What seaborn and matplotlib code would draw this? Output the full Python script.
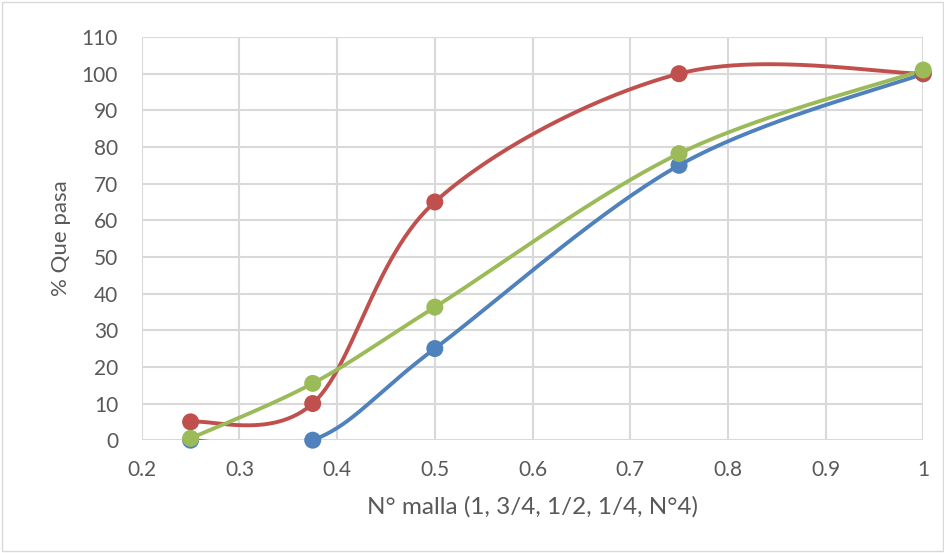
import numpy as np
import pandas as pd
import seaborn as sns
import matplotlib.pyplot as plt
from matplotlib.patches import Rectangle
from matplotlib.ticker import FuncFormatter

# datos
malla = [0.25, 0.375, 0.5, 0.75, 1.0]
serie_azul = [0, 0, 25, 75, 100]
serie_roja = [5, 10, 65, 100, 100]
serie_verde = [0.5, 15.5, 36.3, 78.2, 101]

x_ticks = [0.2, 0.3, 0.4, 0.5, 0.6, 0.7, 0.8, 0.9, 1.0]
y_ticks = list(range(0, 111, 10))

COLORES = ['#4F81BD', '#C0504D', '#9BBB59']


def suavizar(xs, ys, n=60):
    # curva suavizada tipo Excel (Bezier con tangentes Catmull-Rom)
    p = np.column_stack([xs, ys]).astype(float)
    m = len(p)
    out = []
    for i in range(m - 1):
        p0 = p[i - 1] if i > 0 else p[i]
        p1, p2 = p[i], p[i + 1]
        p3 = p[i + 2] if i + 2 < m else p[i + 1]
        c1 = p1 + (p2 - p0) / 6
        c2 = p2 - (p3 - p1) / 6
        t = np.linspace(0, 1, n)[:, None]
        seg = ((1 - t) ** 3) * p1 + 3 * ((1 - t) ** 2) * t * c1 + 3 * (1 - t) * t ** 2 * c2 + t ** 3 * p2
        out.append(seg if i == 0 else seg[1:])
    out = np.vstack(out)
    return out[:, 0], out[:, 1]


sns.set_style('whitegrid', {'grid.color': '#D9D9D9'})
plt.rcParams['font.family'] = ['Lato', 'DejaVu Sans']

fig = plt.figure(figsize=(9.45, 5.53), dpi=100)
ax = fig.add_axes([0.150, 0.204, 0.827, 0.729])

for ys, col in zip([serie_azul, serie_roja, serie_verde], COLORES):
    sx, sy = suavizar(malla, ys)
    sns.lineplot(x=sx, y=sy, sort=False, estimator=None, color=col, linewidth=2.8, ax=ax)
    sns.scatterplot(x=malla, y=ys, color=col, s=150, edgecolor='none', ax=ax,
                    zorder=5, clip_on=False)

ax.set_xlim(0.2, 1.0)
ax.set_ylim(0, 110)
ax.set_xticks(x_ticks)
ax.set_yticks(y_ticks)
ax.xaxis.set_major_formatter(FuncFormatter(lambda v, _: f'{v:g}'))
ax.grid(True, linewidth=1.5, color='#D9D9D9')
for s in ax.spines.values():
    s.set_visible(False)
ax.tick_params(axis='x', labelsize=15, colors='#595959', length=0, pad=14)
ax.tick_params(axis='y', labelsize=15, colors='#595959', length=0, pad=17)
ax.set_xlabel('N° malla (1, 3/4, 1/2, 1/4, N°4)', fontsize=17.5, color='#595959', labelpad=12)
ax.set_ylabel('% Que pasa', fontsize=16, color='#595959', labelpad=8)

fig.patches.append(Rectangle((0.002, 0.003), 0.996, 0.994, transform=fig.transFigure,
                             fill=False, edgecolor='#D9D9D9', linewidth=1))

fig.savefig('out.png', dpi=100)
